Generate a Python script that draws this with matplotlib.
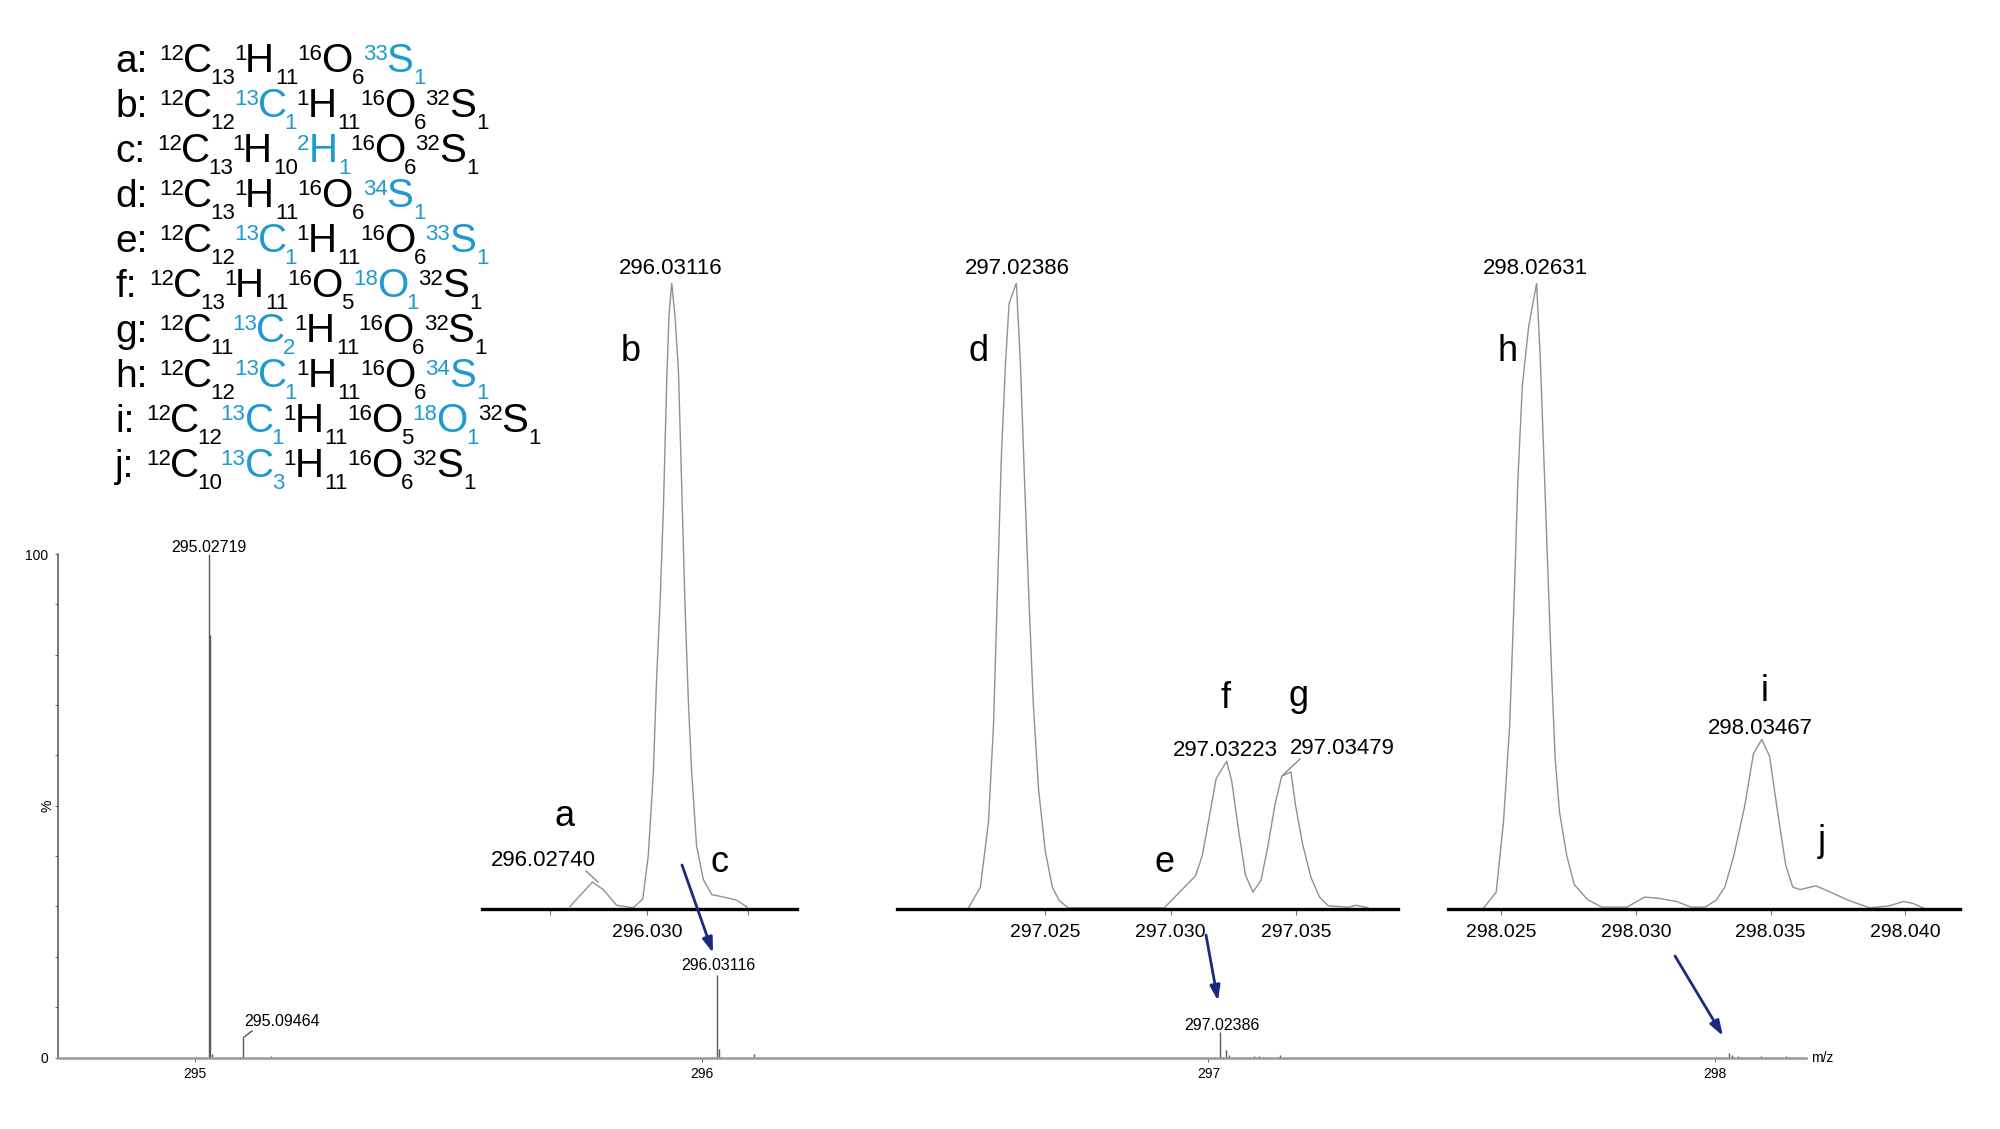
import matplotlib
matplotlib.use('Agg')
import matplotlib.pyplot as plt

plt.rcParams['font.family'] = ['Liberation Sans', 'DejaVu Sans']

W = 2000
H = 1129
BLUE = '#1f9ad0'
NAVY = '#1a2a80'
CURVE = '#919191'

# full spectrum, peaks as m/z and relative abundance
main_mz = [295.02719, 295.02900, 295.03400, 295.09464, 295.15000, 296.03116, 296.03400, 296.10260,
           297.02386, 297.03400, 297.04000, 297.09000, 297.10000, 297.14100,
           298.02760, 298.03400, 298.04500, 298.09000, 298.14000]
main_int = [100, 84, 0.7, 4.0, 0.3, 16.4, 1.6, 0.7,
            5.1, 1.4, 0.5, 0.3, 0.3, 0.4,
            0.8, 0.5, 0.3, 0.2, 0.2]
main_labels = ['295.02719', '295.09464', '296.03116', '297.02386']
main_ticks = [295, 296, 297, 298]

# zoomed peaks
mz1 = [296.02634, 296.02740, 296.02792, 296.02855, 296.02934, 296.02979, 296.03005, 296.03029, 296.03045,
       296.03061, 296.03077, 296.03092, 296.03103, 296.03116, 296.03132, 296.03148, 296.03163, 296.03179,
       296.03195, 296.03211, 296.03234, 296.03266, 296.03306, 296.03377, 296.03424, 296.03475]
int1 = [0.4, 4.3, 3.1, 0.6, 0.2, 1.6, 8.5, 21.7, 37.2, 48.8, 64.3, 83.7, 94.6, 100, 94.6, 86, 68.2, 48.8,
        33.3, 21.7, 10.1, 4.7, 2.3, 1.8, 1.4, 0.3]

mz2 = [297.02196, 297.02243, 297.02275, 297.02295, 297.02312, 297.02326, 297.02343, 297.02357, 297.02386,
       297.02402, 297.02419, 297.02437, 297.02453, 297.02474, 297.02501, 297.02529, 297.02556, 297.02591,
       297.02975, 297.03099, 297.03126, 297.03154, 297.03181, 297.03223, 297.03243, 297.03271, 297.03298,
       297.03328, 297.03360, 297.03387, 297.03415, 297.03442, 297.03479, 297.03497, 297.03525, 297.03559,
       297.03593, 297.03628, 297.03710, 297.03738, 297.03786]
int2 = [0.2, 3.5, 13.9, 29.3, 52.5, 71.8, 87.3, 96.7, 100, 87.3, 68, 48.6, 33.2, 19.3, 9.3, 3.5, 1.4, 0.2,
        0.2, 5.3, 8.5, 14.7, 20.8, 23.6, 20.5, 12.4, 5.4, 2.7, 4.6, 10, 16.6, 21.2, 21.9, 16.6, 10.4, 5,
        1.9, 0.5, 0.3, 0.6, 0.2]

mz3 = [298.02435, 298.02481, 298.02508, 298.02531, 298.02550, 298.02561, 298.02578, 298.02601, 298.02631,
       298.02645, 298.02658, 298.02674, 298.02687, 298.02700, 298.02716, 298.02743, 298.02771, 298.02820,
       298.02873, 298.02966, 298.03032, 298.03085, 298.03151, 298.03204, 298.03257, 298.03297, 298.03330,
       298.03363, 298.03403, 298.03436, 298.03467, 298.03496, 298.03523, 298.03556, 298.03582, 298.03609,
       298.03668, 298.03722, 298.03788, 298.03867, 298.03940, 298.03993, 298.04027, 298.04066]
int3 = [0.2, 2.7, 13.9, 29.4, 52.6, 68.1, 83.6, 92.9, 100, 87.5, 72, 52.6, 37.2, 24, 15.5, 8.5, 3.9, 1.5,
        0.3, 0.3, 1.9, 1.7, 1.2, 0.3, 0.3, 1.4, 3.5, 8.5, 16.3, 24.8, 27.1, 24.4, 16.3, 7, 3.5, 3.1,
        3.7, 2.7, 1.4, 0.2, 0.5, 1.2, 0.9, 0.2]

ticks1 = [296.0254, 296.030, 296.0348]
ticklabels1 = ['', '296.030', '']
ticks2 = [297.025, 297.030, 297.035]
ticklabels2 = ['297.025', '297.030', '297.035']
ticks3 = [298.025, 298.030, 298.035, 298.040]
ticklabels3 = ['298.025', '298.030', '298.035', '298.040']

# (isotope, element, count, highlighted)
row_labels = ['a:', 'b:', 'c:', 'd:', 'e:', 'f:', 'g:', 'h:', 'i:', 'j:']
row_formulas = [
    [('12', 'C', '13', 0), ('1', 'H', '11', 0), ('16', 'O', '6', 0), ('33', 'S', '1', 1)],
    [('12', 'C', '12', 0), ('13', 'C', '1', 1), ('1', 'H', '11', 0), ('16', 'O', '6', 0), ('32', 'S', '1', 0)],
    [('12', 'C', '13', 0), ('1', 'H', '10', 0), ('2', 'H', '1', 1), ('16', 'O', '6', 0), ('32', 'S', '1', 0)],
    [('12', 'C', '13', 0), ('1', 'H', '11', 0), ('16', 'O', '6', 0), ('34', 'S', '1', 1)],
    [('12', 'C', '12', 0), ('13', 'C', '1', 1), ('1', 'H', '11', 0), ('16', 'O', '6', 0), ('33', 'S', '1', 1)],
    [('12', 'C', '13', 0), ('1', 'H', '11', 0), ('16', 'O', '5', 0), ('18', 'O', '1', 1), ('32', 'S', '1', 0)],
    [('12', 'C', '11', 0), ('13', 'C', '2', 1), ('1', 'H', '11', 0), ('16', 'O', '6', 0), ('32', 'S', '1', 0)],
    [('12', 'C', '12', 0), ('13', 'C', '1', 1), ('1', 'H', '11', 0), ('16', 'O', '6', 0), ('34', 'S', '1', 1)],
    [('12', 'C', '12', 0), ('13', 'C', '1', 1), ('1', 'H', '11', 0), ('16', 'O', '5', 0), ('18', 'O', '1', 1), ('32', 'S', '1', 0)],
    [('12', 'C', '10', 0), ('13', 'C', '3', 1), ('1', 'H', '11', 0), ('16', 'O', '6', 0), ('32', 'S', '1', 0)],
]
row_start = [159, 159, 157, 159, 159, 149, 159, 159, 146, 146]
row_base = [72, 117, 162, 207, 252, 297, 342, 387, 432, 477]
element_advance = {'C': 27, 'H': 30, 'O': 30, 'S': 27}


def add_axes_px(fig, left, right, top, bottom):
    return fig.add_axes([left / W, 1 - bottom / H, (right - left) / W, (bottom - top) / H])


def draw_inset(fig, left, right, xlim, mz, inten, ticks, ticklabels):
    ax = add_axes_px(fig, left, right, 283, 909)
    ax.patch.set_alpha(0)
    ax.plot(mz, inten, color=CURVE, lw=1.0)
    ax.set_xlim(xlim)
    ax.set_ylim(0, 100)
    for s in ['left', 'right', 'top']:
        ax.spines[s].set_visible(False)
    ax.spines['bottom'].set_linewidth(2.4)
    ax.set_yticks([])
    ax.set_xticks(ticks)
    ax.set_xticklabels(ticklabels, fontsize=14, color='black')
    ax.tick_params(axis='x', length=4, width=0.8, color='#777777', pad=7)
    return ax


def draw_formula(ov, renderer, label, parts, x0, y):
    ov.text(115, y, label, fontsize=28, ha='left', va='baseline', color='black')
    x = x0
    for iso, el, num, hl in parts:
        c = BLUE if hl else 'black'
        t = ov.text(x, y - 12, iso, fontsize=16, ha='left', va='baseline', color=c)
        x += t.get_window_extent(renderer).width - 1
        ov.text(x, y, el, fontsize=29, ha='left', va='baseline', color=c)
        x += element_advance[el]
        t = ov.text(x, y + 12, num, fontsize=16, ha='left', va='baseline', color=c)
        x += t.get_window_extent(renderer).width - 1


fig = plt.figure(figsize=(W / 100, H / 100), dpi=100, facecolor='white')

# full spectrum
ax = add_axes_px(fig, 58, 1806, 554, 1057.5)
ax.vlines(main_mz, 0, main_int, color='#5a5a5a', lw=1.0)
ax.set_xlim(294.7296, 298.1794)
ax.set_ylim(0, 100)
ax.spines['top'].set_visible(False)
ax.spines['right'].set_visible(False)
ax.spines['left'].set_color('#555555')
ax.spines['left'].set_linewidth(1.1)
ax.spines['bottom'].set_color('#999999')
ax.spines['bottom'].set_linewidth(1.8)
ax.set_xticks(main_ticks)
ax.set_xticklabels([str(v) for v in main_ticks], fontsize=10, color='black')
ax.set_yticks(range(0, 101, 10))
ax.set_yticklabels(['0', '', '', '', '', '', '', '', '', '', '100'], fontsize=10, color='black')
ax.tick_params(axis='x', length=3, width=0.7, color='#666666', pad=4)
ax.tick_params(axis='y', length=2, width=0.7, color='#666666', pad=5)

# zoomed views
draw_inset(fig, 482, 797, (296.02217, 296.03710), mz1, int1, ticks1, ticklabels1)
draw_inset(fig, 897, 1398, (297.01911, 297.03905), mz2, int2, ticks2, ticklabels2)
draw_inset(fig, 1448, 1960, (298.02302, 298.04203), mz3, int3, ticks3, ticklabels3)

# overlay in pixel coordinates for text and arrows
ov = fig.add_axes([0, 0, 1, 1], zorder=5)
ov.set_xlim(0, W)
ov.set_ylim(H, 0)
ov.axis('off')

renderer = fig.canvas.get_renderer()
for i in range(len(row_labels)):
    draw_formula(ov, renderer, row_labels[i], row_formulas[i], row_start[i], row_base[i])

peak_text = [('296.03116', 671, 269), ('297.02386', 1017, 269), ('298.02631', 1535, 269),
             ('296.02740', 543, 860), ('297.03223', 1225, 750), ('297.03479', 1342, 748),
             ('298.03467', 1760, 728)]
for s, x, y in peak_text:
    ov.text(x, y, s, fontsize=16, ha='center', va='center', color='black')

letters = [('a', 565, 826), ('b', 631, 361), ('c', 719, 872), ('d', 979, 361), ('e', 1164, 872),
           ('f', 1226, 708), ('g', 1299, 706), ('h', 1508, 361), ('i', 1765, 701), ('j', 1822, 851)]
for s, x, y in letters:
    ov.text(x, y, s, fontsize=26, ha='center', va='baseline', color='black')

main_text_pos = [(209, 548), (282, 1022), (718, 966), (1222, 1025)]
for s, (x, y) in zip(main_labels, main_text_pos):
    ov.text(x, y, s, fontsize=11.5, ha='center', va='center', color='black')
ov.text(1822, 1058, 'm/z', fontsize=10, ha='center', va='center', color='black')
ov.text(47, 806, '%', fontsize=10, ha='center', va='center', rotation=90, color='black')

# leader lines
ov.plot([586, 598], [871, 882], color='#888888', lw=1)
ov.plot([1300, 1283], [759, 775], color='#888888', lw=1)
ov.plot([244, 252], [1037, 1031], color='#555555', lw=1)

# arrows
arrows = [((682, 865), (713, 953)), ((1206, 935), (1218, 1001)), ((1675, 956), (1723, 1036))]
for start, end in arrows:
    ov.annotate('', xy=end, xytext=start,
                arrowprops=dict(arrowstyle='-|>,head_length=0.9,head_width=0.3', color=NAVY, lw=2,
                                shrinkA=0, shrinkB=0))

fig.savefig('out.png', dpi=100, facecolor='white')
